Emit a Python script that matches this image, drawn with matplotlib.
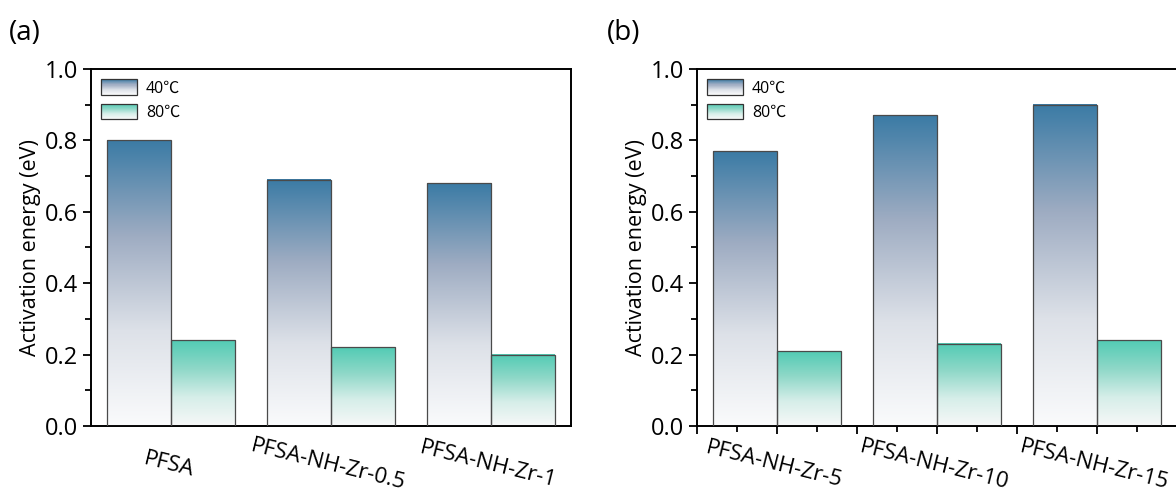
import numpy as np
import matplotlib
matplotlib.use("Agg")
import matplotlib.pyplot as plt
from matplotlib.colors import LinearSegmentedColormap
from matplotlib.legend_handler import HandlerBase
from matplotlib.patches import Rectangle, Patch
from matplotlib.ticker import MultipleLocator

plt.rcParams['font.family'] = ['Open Sans', 'Noto Sans CJK SC', 'DejaVu Sans']

# data
labels_a = ["PFSA", "PFSA-NH-Zr-0.5", "PFSA-NH-Zr-1"]
ea_40_a = [0.80, 0.69, 0.68]
ea_80_a = [0.24, 0.22, 0.20]

labels_b = ["PFSA-NH-Zr-5", "PFSA-NH-Zr-10", "PFSA-NH-Zr-15"]
ea_40_b = [0.77, 0.87, 0.90]
ea_80_b = [0.21, 0.23, 0.24]

series_names = ["40\u2103", "80\u2103"]

cmap_40 = LinearSegmentedColormap.from_list("c40", ["#fafbfc", "#dde1e8", "#9eacc2", "#3b7ba5"])
cmap_80 = LinearSegmentedColormap.from_list("c80", ["#f7f8f8", "#d6eee9", "#8fd8c8", "#52cbb4"])
grad = np.linspace(0, 1, 256).reshape(-1, 1)


def gradient_bars(ax, x, heights, width, cmap):
    bars = ax.bar(x, heights, width, facecolor="none", edgecolor="#4a4a4a",
                  linewidth=0.9, zorder=3)
    for b in bars:
        x0, w, h = b.get_x(), b.get_width(), b.get_height()
        ax.imshow(grad, cmap=cmap, origin="lower", aspect="auto",
                  extent=[x0, x0 + w, 0, h], zorder=2)
    return bars


class GradientHandler(HandlerBase):
    def __init__(self, cmap):
        super().__init__()
        self.cmap = cmap

    def create_artists(self, legend, orig_handle, xdescent, ydescent,
                       width, height, fontsize, trans):
        arts = []
        n = 30
        for i in range(n):
            r = Rectangle((-xdescent, -ydescent + height * i / n), width, height / n + 0.05,
                          facecolor=self.cmap((i + 0.5) / n), edgecolor="none",
                          transform=trans)
            arts.append(r)
        arts.append(Rectangle((-xdescent, -ydescent), width, height, facecolor="none",
                              edgecolor="#333333", linewidth=0.9, transform=trans))
        return arts


def draw_panel(ax, labels, v40, v80, show_xticks):
    x = np.arange(1, len(labels) + 1)
    w = 0.4
    gradient_bars(ax, x - w / 2, v40, w, cmap_40)
    gradient_bars(ax, x + w / 2, v80, w, cmap_80)

    ax.set_xlim(0.5, 3.5)
    ax.set_ylim(0, 1.0)
    ax.yaxis.set_minor_locator(MultipleLocator(0.1))
    ax.set_yticks(np.arange(0, 1.01, 0.2))
    ax.set_yticklabels(["%.1f" % v for v in np.arange(0, 1.01, 0.2)], fontsize=17)
    ax.set_ylabel("Activation energy (eV)", fontsize=15.5, labelpad=3)

    if show_xticks:
        ax.xaxis.set_major_locator(MultipleLocator(0.5))
        ax.xaxis.set_minor_locator(MultipleLocator(0.25))
        ax.set_xticklabels([])
        ax.tick_params(axis="x", which="major", length=6, width=1.3, direction="out")
        ax.tick_params(axis="x", which="minor", length=4, width=1.3, direction="out")
    else:
        ax.set_xticks([])
    for xi, lab in zip(x, labels):
        ax.text(xi, -0.08, lab, rotation=-14, ha="center", va="top",
                fontsize=16, transform=ax.get_xaxis_transform(),
                rotation_mode="anchor")

    ax.tick_params(axis="y", which="major", length=6, width=1.3, direction="out", pad=3)
    ax.tick_params(axis="y", which="minor", length=4, width=1.3, direction="out")
    for s in ax.spines.values():
        s.set_linewidth(1.4)

    handles = [Patch(), Patch()]
    ax.legend(handles, series_names, loc="upper left", frameon=False,
              fontsize=11.5, handlelength=2.2, handleheight=1.1,
              borderaxespad=0.25, handletextpad=0.6, labelspacing=0.45,
              borderpad=0.4,
              handler_map={handles[0]: GradientHandler(cmap_40),
                           handles[1]: GradientHandler(cmap_80)})


fig = plt.figure(figsize=(11.76, 4.97), dpi=100)
W, H = 1176.0, 497.0
bottom = 1 - 426 / H
height = (426 - 69) / H
ax1 = fig.add_axes([91 / W, bottom, 480 / W, height])
ax2 = fig.add_axes([697 / W, bottom, 480 / W, height])

draw_panel(ax1, labels_a, ea_40_a, ea_80_a, show_xticks=False)
draw_panel(ax2, labels_b, ea_40_b, ea_80_b, show_xticks=True)

fig.text(9 / W, 1 - 40 / H, "(a)", fontsize=20)
fig.text(607 / W, 1 - 40 / H, "(b)", fontsize=20)

fig.savefig("out.png", dpi=100)
